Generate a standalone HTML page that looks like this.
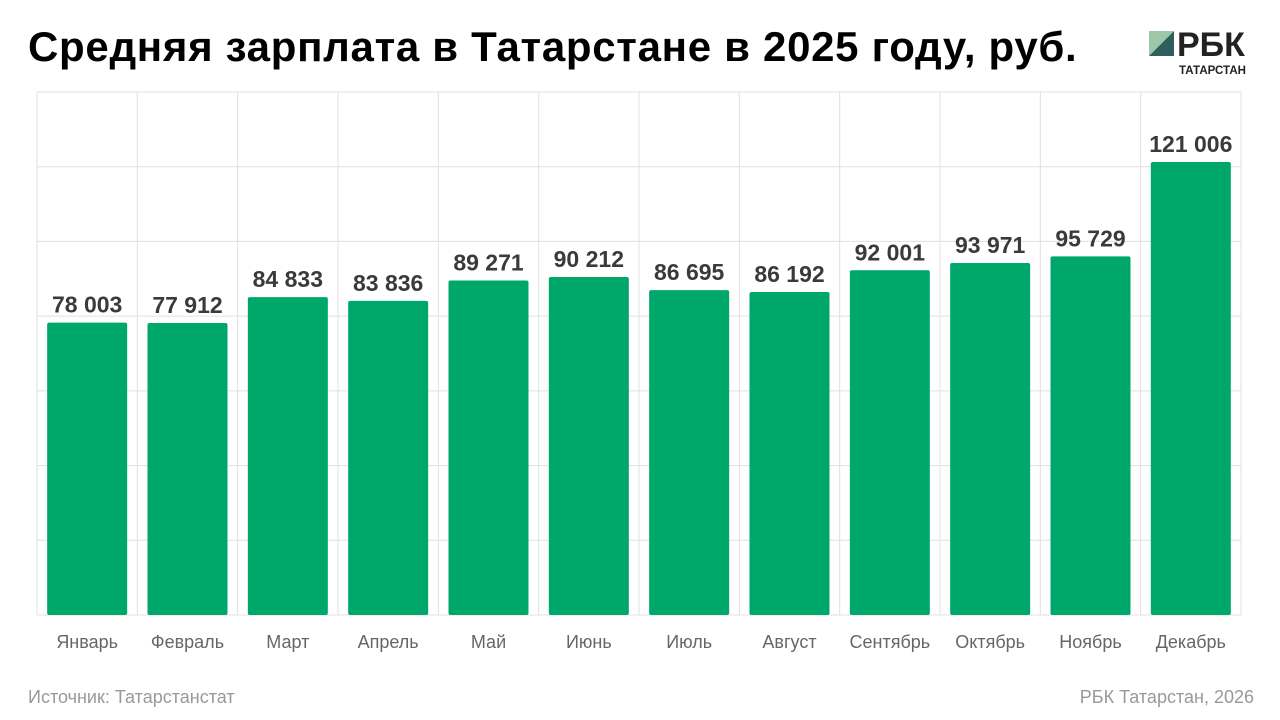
<!DOCTYPE html>
<html><head><meta charset="utf-8">
<style>
body{margin:0;width:1280px;height:720px;background:#fff;font-family:"Liberation Sans",sans-serif;overflow:hidden;position:relative}
.t{position:absolute;white-space:nowrap}
</style></head><body>
<div class="t" style="left:28px;top:23px;font-size:42px;font-weight:bold;color:#000;letter-spacing:0.7px">Средняя зарплата в Татарстане в 2025 году, руб.</div>
<div style="position:absolute;left:1149px;top:30px">
<svg width="110" height="50"><polygon points="0,1 25,1 0,26" fill="#9cc7a8"/><polygon points="25,1 25,26 0,26" fill="#2e5f5c"/>
<text x="28" y="26" font-family="Liberation Sans" font-weight="bold" font-size="34" fill="#222">РБК</text>
<text x="30" y="44" font-family="Liberation Sans" font-weight="bold" font-size="11.5" fill="#222">ТАТАРСТАН</text></svg></div>
<svg id="c" width="1280" height="720" style="position:absolute;left:0;top:0"></svg>
<div class="t" style="left:28px;top:687px;font-size:18px;color:#999">Источник: Татарстанстат</div>
<div class="t" style="right:26px;top:687px;font-size:18px;color:#999">РБК Татарстан, 2026</div>
<script>
const categories=["Январь","Февраль","Март","Апрель","Май","Июнь","Июль","Август","Сентябрь","Октябрь","Ноябрь","Декабрь"];
const values=[78003,77912,84833,83836,89271,90212,86695,86192,92001,93971,95729,121006];
const yTicks=[0,20000,40000,60000,80000,100000,120000,140000];
const NS="http://www.w3.org/2000/svg",svg=document.getElementById('c');
const L=37,R=1241,T=92,B=615,maxV=140000;
const bw=(R-L)/categories.length;
const x=i=>L+i*bw, y=v=>B-(v/maxV)*(B-T);
function el(t,a){const e=document.createElementNS(NS,t);for(const k in a)e.setAttribute(k,a[k]);svg.appendChild(e);return e;}
yTicks.forEach(v=>{const g=el('line',{x1:L,x2:R,y1:y(v),y2:y(v),stroke:'#e0e0e0','stroke-width':1});

});
for(let i=0;i<=categories.length;i++){const g=el('line',{x1:x(i),x2:x(i),y1:T,y2:B,stroke:'#e0e0e0','stroke-width':1});

}
values.forEach((v,i)=>{
const cx=x(i)+bw/2;
const b=el('rect',{x:cx-40,y:y(v)-1,width:80,height:B-y(v)+1,fill:'#00a76a',rx:2});


const s=v.toString().replace(/\B(?=(\d{3})+(?!\d))/g,' ');
const t=el('text',{x:cx,y:y(v)-11,'text-anchor':'middle','font-size':23,'font-weight':'bold',fill:'#3a3a3a','font-family':'Liberation Sans'});t.textContent=s;


const c=el('text',{x:cx,y:648,'text-anchor':'middle','font-size':18,fill:'#666','font-family':'Liberation Sans'});c.textContent=categories[i];


});
</script>
</body></html>
